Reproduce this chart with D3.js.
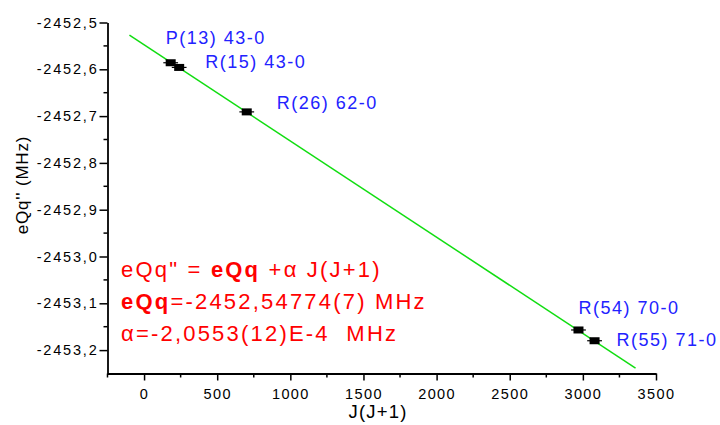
<!DOCTYPE html>
<html>
<head>
<meta charset="utf-8">
<script src="https://cdn.jsdelivr.net/npm/d3@7"></script>
<style>
  html, body { margin: 0; padding: 0; background: #fff; }
  svg { display: block; font-family: "Liberation Sans", Arial, Helvetica, sans-serif; }
  text { white-space: pre; }
</style>
</head>
<body>
<svg id="chart" width="720" height="425"></svg>
<script>
// ---- data ----
const transitions = ["P(13) 43-0", "R(15) 43-0", "R(26) 62-0", "R(54) 70-0", "R(55) 71-0"];
const jj1 = [182, 240, 702, 2970, 3080];
const eqqValues = [-2452.586, -2452.596, -2452.691, -2453.157, -2453.180];
const xErr = [30, 30, 30, 30, 30];

const fitIntercept = -2452.54774;
const fitSlope = -2.0553e-4;
const fitRange = [-100, 3360];

const xTickValues = [0, 500, 1000, 1500, 2000, 2500, 3000, 3500];
const xTickLabels = ["0", "500", "1000", "1500", "2000", "2500", "3000", "3500"];
const xMinorValues = [-250, 250, 750, 1250, 1750, 2250, 2750, 3250];
const yTickValues = [-2452.5, -2452.6, -2452.7, -2452.8, -2452.9, -2453.0, -2453.1, -2453.2];
const yTickLabels = ["-2452,5", "-2452,6", "-2452,7", "-2452,8", "-2452,9", "-2453,0", "-2453,1", "-2453,2"];
const yMinorValues = [-2452.55, -2452.65, -2452.75, -2452.85, -2452.95, -2453.05, -2453.15];

const eqLines = [
  [{t: "eQq\" = ", b: false}, {t: "eQq", b: true}, {t: " +\u03B1 J(J+1)", b: false}],
  [{t: "eQq", b: true}, {t: "=-2452,54774(7) MHz", b: false}],
  [{t: "\u03B1=-2,0553(12)E-4\u00A0 MHz", b: false}]
];

// ---- chart ----
const svg = d3.select("#chart");
const x = d3.scaleLinear().domain([-250, 3500]).range([107.5, 656]);
const y = d3.scaleLinear().domain([-2452.5, -2453.25]).range([22.5, 373.5]);

const axisColor = "#000";

// fit line
svg.append("line")
  .attr("x1", x(fitRange[0])).attr("y1", y(fitIntercept + fitSlope * fitRange[0]))
  .attr("x2", x(fitRange[1])).attr("y2", y(fitIntercept + fitSlope * fitRange[1]))
  .attr("stroke", "#11dd11").attr("stroke-width", 1.5);

// x axis
const gx = svg.append("g").attr("transform", `translate(0,${y(-2453.25)})`);
gx.call(d3.axisBottom(x).tickValues(xTickValues).tickSize(7).tickSizeOuter(0)
  .tickFormat((d, i) => xTickLabels[i]));
gx.append("g").selectAll("line").data(xMinorValues).join("line")
  .attr("x1", d => x(d)).attr("x2", d => x(d)).attr("y1", 0).attr("y2", 4)
  .attr("stroke", axisColor).attr("stroke-width", 1.5);
gx.selectAll(".tick text").attr("font-size", 14.5).attr("letter-spacing", 1.4)
  .attr("font-family", "Liberation Sans, Arial, sans-serif").attr("fill", "#000").attr("dy", "1.05em");

// y axis
const gy = svg.append("g").attr("transform", `translate(${x(-250)},0)`);
gy.call(d3.axisLeft(y).tickValues(yTickValues).tickSize(8).tickSizeOuter(0)
  .tickFormat((d, i) => yTickLabels[i]));
gy.append("g").selectAll("line").data(yMinorValues).join("line")
  .attr("y1", d => y(d)).attr("y2", d => y(d)).attr("x1", 0).attr("x2", -4)
  .attr("stroke", axisColor).attr("stroke-width", 1.5);
gy.selectAll(".tick text").attr("font-size", 14.5).attr("letter-spacing", 1.8)
  .attr("font-family", "Liberation Sans, Arial, sans-serif").attr("fill", "#000").attr("x", -9);

[gx, gy].forEach(g => {
  g.select(".domain").attr("stroke", axisColor).attr("stroke-width", 1.8);
  g.selectAll(".tick line").attr("stroke", axisColor).attr("stroke-width", 1.5);
});

// data points with error bars
const pts = svg.append("g");
jj1.forEach((v, i) => {
  const cx = x(v), cy = y(eqqValues[i]);
  pts.append("line")
    .attr("x1", x(v - xErr[i]) - 3).attr("x2", x(v + xErr[i]) + 3)
    .attr("y1", cy).attr("y2", cy)
    .attr("stroke", "#000").attr("stroke-width", 1.2);
  pts.append("rect")
    .attr("x", cx - 5).attr("y", cy - 3.5).attr("width", 10).attr("height", 7)
    .attr("fill", "#000");
});

// transition labels
const labelPos = [
  {dx: -5, dy: -19},
  {dx: 26, dy: 1},
  {dx: 30, dy: -3},
  {dx: 0, dy: -16},
  {dx: 22, dy: 5}
];
svg.append("g").selectAll("text").data(transitions).join("text")
  .attr("x", (d, i) => x(jj1[i]) + labelPos[i].dx)
  .attr("y", (d, i) => y(eqqValues[i]) + labelPos[i].dy)
  .attr("font-size", 18).attr("letter-spacing", 1.5)
  .attr("fill", "#2222ff")
  .text(d => d);

// axis titles
svg.append("text")
  .attr("x", 378).attr("y", 418).attr("text-anchor", "middle")
  .attr("font-size", 18.5).attr("letter-spacing", 1.2).attr("fill", "#000")
  .text("J(J+1)");
svg.append("text")
  .attr("transform", "translate(28,185) rotate(-90)").attr("text-anchor", "middle")
  .attr("font-size", 17).attr("letter-spacing", 0.8).attr("fill", "#000")
  .text("eQq'' (MHz)");

// equation text
const eq = svg.append("g");
const eqBase = [277, 309, 341];
eqLines.forEach((parts, li) => {
  const t = eq.append("text").attr("x", 121).attr("y", eqBase[li])
    .attr("font-size", 22).attr("letter-spacing", 2.2).attr("fill", "#ff0000");
  parts.forEach(p => {
    t.append("tspan").attr("font-weight", p.b ? "bold" : "normal").text(p.t);
  });
});
</script>
</body>
</html>
